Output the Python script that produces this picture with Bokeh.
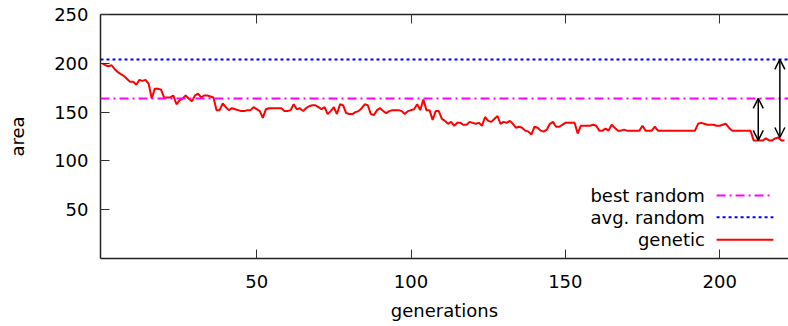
from bokeh.plotting import figure
from bokeh.models import Range1d, FixedTicker, LinearAxis, Span, Arrow, OpenHead, Label
from bokeh.embed import file_html
from bokeh.resources import INLINE

# ---- data ----
genetic = [
    200, 198, 197, 198, 194, 191, 189, 187, 184, 181,
    181, 178, 183, 182, 183, 179, 164, 174, 174, 173,
    165, 165, 165, 167, 158, 162, 164, 167, 164, 161,
    167, 169, 165, 167, 167, 166, 165, 152, 152, 159,
    155, 152, 154, 153, 152, 151, 151, 152, 152, 155,
    153, 151, 144, 153, 154, 154, 154, 154, 154, 151,
    151, 152, 158, 153, 154, 151, 154, 156, 157, 157,
    155, 153, 155, 148, 151, 155, 148, 158, 157, 149,
    148, 148, 150, 151, 154, 158, 157, 148, 147, 152,
    154, 151, 149, 151, 152, 152, 152, 151, 148, 151,
    152, 153, 158, 152, 163, 152, 152, 142, 151, 151,
    143, 141, 138, 140, 136, 139, 139, 137, 137, 140,
    139, 138, 139, 136, 145, 141, 140, 143, 146, 138,
    140, 139, 141, 138, 134, 135, 134, 131, 130, 127,
    135, 134, 131, 130, 132, 138, 140, 135, 135, 137,
    139, 139, 139, 139, 128, 136, 136, 136, 136, 137,
    136, 131, 131, 133, 131, 137, 134, 131, 131, 132,
    131, 131, 131, 131, 131, 136, 131, 131, 131, 135,
    131, 131, 131, 131, 131, 131, 131, 131, 131, 131,
    131, 131, 131, 138, 139, 138, 137, 137, 137, 136,
    136, 137, 138, 134, 131, 131, 131, 131, 131, 131,
    131, 121, 121, 121, 121, 123, 121, 121, 123, 124,
    121, 121,
]
generations = list(range(len(genetic)))
best_random = 164
avg_random = 204
arrow_gens = [212.5, 219.5]
x_ticks = [50, 100, 150, 200]
y_ticks = [50, 100, 150, 200, 250]

FONT = "DejaVu Sans"
FS = "18px"

p = figure(width=788, height=326,
           x_range=Range1d(-0.6, 222.3), y_range=Range1d(0, 250),
           output_backend="svg", toolbar_location=None,
           min_border_left=100, min_border_right=0,
           min_border_top=14, min_border_bottom=68)
p.outline_line_color = None
p.grid.visible = False
p.background_fill_color = "white"
p.border_fill_color = "white"

for ax in (p.xaxis[0], p.yaxis[0]):
    ax.axis_line_color = "#222222"
    ax.axis_line_width = 1.5
    ax.major_tick_in = 9
    ax.major_tick_out = 0
    ax.major_tick_line_color = "#333333"
    ax.minor_tick_line_color = None
    ax.major_label_text_font = FONT
    ax.major_label_text_font_size = FS
    ax.major_label_text_color = "black"
    ax.axis_label_text_font = FONT
    ax.axis_label_text_font_size = FS
    ax.axis_label_text_font_style = "normal"
    ax.axis_label_text_color = "black"

p.xaxis.ticker = FixedTicker(ticks=x_ticks)
p.yaxis.ticker = FixedTicker(ticks=y_ticks)
p.xaxis.axis_label = "generations"
p.yaxis.axis_label = "area"
p.xaxis.major_label_standoff = 16
p.yaxis.major_label_standoff = 12
p.xaxis.axis_label_standoff = 9
p.yaxis.axis_label_standoff = 23

top = LinearAxis(ticker=FixedTicker(ticks=x_ticks), axis_line_color="#222222",
                 axis_line_width=1.5, major_tick_in=9, major_tick_out=0,
                 major_tick_line_color="#333333", minor_tick_line_color=None,
                 major_label_text_font_size="1px", major_label_text_alpha=0,
                 major_label_standoff=0)
p.add_layout(top, "above")

p.add_layout(Span(location=best_random, dimension="width", line_color="#ff00ff",
                  line_width=2, line_dash="9 4 2 4"))
p.add_layout(Span(location=avg_random, dimension="width", line_color="#0000ff",
                  line_width=2, line_dash="3 3"))

p.line(generations, genetic, line_color="#ff0000", line_width=2)

arrow_bottoms = [genetic[int(arrow_gens[0])], genetic[int(arrow_gens[1])]]
for xg, ytop, ybot in zip(arrow_gens, [best_random, avg_random], arrow_bottoms):
    p.add_layout(Arrow(start=OpenHead(size=10, line_color="black", line_width=1.5),
                       end=OpenHead(size=10, line_color="black", line_width=1.5),
                       x_start=xg, y_start=ytop, x_end=xg, y_end=ybot,
                       line_color="black", line_width=1.5))

# legend (gnuplot style: text right-aligned, sample to the right)
leg = [("best random", "#ff00ff", "9 4 2 4", 64.5),
       ("avg. random", "#0000ff", "3 3", 42.3),
       ("genetic", "#ff0000", "solid", 19.2)]
for txt, col, dash, yy in leg:
    p.add_layout(Label(x=195.2, y=yy, text=txt, text_align="right",
                       text_baseline="middle", text_font=FONT,
                       text_font_size=FS, text_color="black"))
    p.line([199.0, 217.4], [yy, yy], line_color=col, line_width=2, line_dash=dash)

open("out.html", "w").write(file_html(p, INLINE))
